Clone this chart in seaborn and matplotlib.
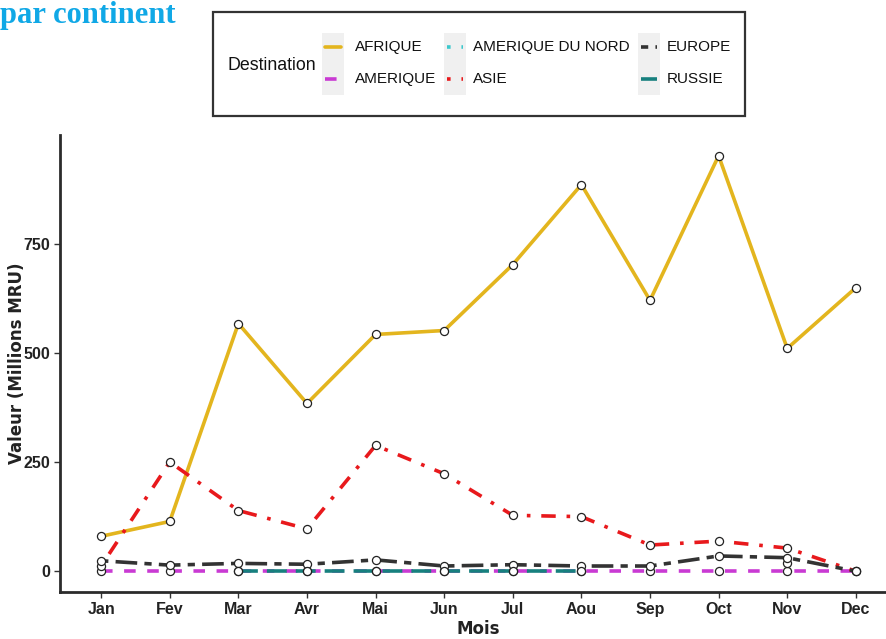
import numpy as np
import pandas as pd
import matplotlib
matplotlib.use("Agg")
import matplotlib.pyplot as plt
from matplotlib.patches import Rectangle
from matplotlib.lines import Line2D
import seaborn as sns

mois = ["Jan", "Fev", "Mar", "Avr", "Mai", "Jun", "Jul", "Aou", "Sep", "Oct", "Nov", "Dec"]
afrique = [80, 114, 567, 384, 542, 551, 702, 885, 620, 951, 510, 649]
amerique = [0, 0, 0, 0, 0, 0, 0, 0, 0, 0, 0, 0]
amerique_nord = [np.nan] * 10 + [20, np.nan]
asie = [12, 250, 139, 97, 288, 223, 128, 125, 60, 69, 53, 0]
europe = [24, 14, 18, 16, 26, 12, 15, 12, 12, 35, 31, 0]
russie = [np.nan, np.nan, 0, 0, 0, 0, 0, 0, np.nan, np.nan, np.nan, np.nan]

destinations = ["AFRIQUE", "AMERIQUE", "AMERIQUE DU NORD", "ASIE", "EUROPE", "RUSSIE"]
series = [afrique, amerique, amerique_nord, asie, europe, russie]

rows = []
for dest, vals in zip(destinations, series):
    for i, (m, v) in enumerate(zip(mois, vals)):
        rows.append({"Mois": m, "idx": i, "Destination": dest, "Valeur": v})
df = pd.DataFrame(rows).dropna()

palette = {
    "AFRIQUE": "#E3B51E",
    "AMERIQUE": "#C93AD3",
    "AMERIQUE DU NORD": "#3CC8CC",
    "ASIE": "#E8191C",
    "EUROPE": "#333333",
    "RUSSIE": "#17807E",
}
dashes = {
    "AFRIQUE": "",
    "AMERIQUE": (3.2, 3.2),
    "AMERIQUE DU NORD": (1, 3),
    "ASIE": (1, 3, 4, 3),
    "EUROPE": (2, 2, 6, 2),
    "RUSSIE": (5.5, 2.5),
}

SANS = ["Liberation Sans", "DejaVu Sans"]
WIDE = ["DejaVu Sans"]

sns.set_theme(style="white")
plt.rcParams["font.family"] = SANS

W, H = 887, 639
fig = plt.figure(figsize=(W / 100, H / 100), dpi=100)
ax = fig.add_axes([60 / W, 47 / H, 837 / W, 457 / H])

sns.lineplot(data=df, x="idx", y="Valeur", hue="Destination", style="Destination",
             hue_order=destinations, style_order=destinations, palette=palette,
             dashes=dashes, linewidth=2.6, legend=False, ax=ax, sort=True)
sns.scatterplot(data=df, x="idx", y="Valeur", color="white", edgecolor="#222222",
                linewidth=0.9, s=34, legend=False, ax=ax, zorder=5)

ax.set_xlim(-0.6, 11.6)
ax.set_ylim(-47.5, 998.5)
ax.set_xticks(range(12))
ax.set_xticklabels(mois)
ax.set_yticks([0, 250, 500, 750])
ax.tick_params(axis="both", which="both", length=4, width=1, color="#333333",
               labelsize=11.5, labelcolor="#222222", pad=3, bottom=True, left=True)
for lab in ax.get_xticklabels() + ax.get_yticklabels():
    lab.set_fontweight("bold")
for s in ["top", "right"]:
    ax.spines[s].set_visible(False)
for s in ["left", "bottom"]:
    ax.spines[s].set_color("#2b2b2b")
    ax.spines[s].set_linewidth(2)
ax.set_xlabel("Mois", fontsize=12, fontweight="bold", color="#222222", family=WIDE)
ax.set_ylabel("Valeur (Millions MRU)", fontsize=12, fontweight="bold", color="#222222",
              family=WIDE)
ax.yaxis.set_label_coords(-34 / 837, 0.5)
ax.xaxis.set_label_coords(0.5, -28 / 457)


def fx(px):
    return px / W


def fy(py):
    return 1 - py / H


# Legend: framed box, title on the left, three columns of keys
fig.patches.append(Rectangle((fx(213), fy(116)), 532 / W, 104 / H,
                             transform=fig.transFigure, fill=False,
                             edgecolor="#333333", linewidth=1.6))
fig.text(fx(228), fy(66), "Destination", fontsize=12.8, va="center", ha="left",
         color="#111111")

key_cols = [322, 444, 638]
label_cols = [355, 473, 667]
row_y = [47, 79]
layout = {
    "AFRIQUE": (0, 0), "AMERIQUE": (0, 1),
    "AMERIQUE DU NORD": (1, 0), "ASIE": (1, 1),
    "EUROPE": (2, 0), "RUSSIE": (2, 1),
}
for kx in key_cols:
    fig.patches.append(Rectangle((fx(kx), fy(95)), 22 / W, 62 / H,
                                 transform=fig.transFigure, facecolor="#F0F0F0",
                                 edgecolor="none"))
for d in destinations:
    c, r = layout[d]
    x0 = key_cols[c]
    ln = Line2D([fx(x0 + 3), fx(x0 + 19)], [fy(row_y[r])] * 2, transform=fig.transFigure,
                color=palette[d], lw=2.6)
    if dashes[d]:
        ln.set_dashes(dashes[d])
    fig.add_artist(ln)
    fig.text(fx(label_cols[c]), fy(row_y[r]), d, fontsize=11, va="center", ha="left",
             color="#111111")

fig.text(0, fy(15), "par continent", fontsize=22, fontweight="bold",
         family=["Liberation Serif", "DejaVu Serif"], color="#10A8E6", va="center", ha="left")

fig.savefig("out.png", dpi=100)
